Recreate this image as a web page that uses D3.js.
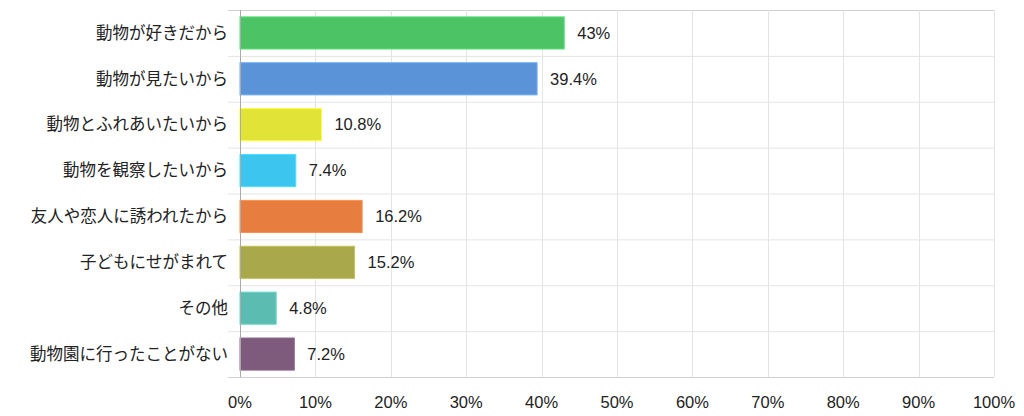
<!DOCTYPE html>
<html>
<head>
<meta charset="utf-8">
<script src="https://cdn.jsdelivr.net/npm/d3@7"></script>
<style>
  body { margin: 0; background: #fff; }
  text { font-family: "Liberation Sans", "Noto Sans CJK JP", sans-serif; fill: #222; }
</style>
</head>
<body>
<div id="chart"></div>
<script>
// données
const categories = ["動物が好きだから", "動物が見たいから", "動物とふれあいたいから", "動物を観察したいから",
  "友人や恋人に誘われたから", "子どもにせがまれて", "その他", "動物園に行ったことがない"];
const values = [43, 39.4, 10.8, 7.4, 16.2, 15.2, 4.8, 7.2];
const valueLabels = ["43%", "39.4%", "10.8%", "7.4%", "16.2%", "15.2%", "4.8%", "7.2%"];
const colors = ["#4cc466", "#5b93d9", "#e2e337", "#3cc5ef", "#e77d3f", "#a9a84b", "#5bbcb1", "#7e5b7c"];
const xTicks = [0, 10, 20, 30, 40, 50, 60, 70, 80, 90, 100];

const width = 1024, height = 416;
const margin = {top: 10, right: 30, bottom: 39, left: 240};

const svg = d3.select("#chart").append("svg")
  .attr("width", width)
  .attr("height", height);

const x = d3.scaleLinear().domain([0, 100]).range([margin.left, 994]);
const y = d3.scaleBand().domain(categories).range([margin.top, height - margin.bottom])
  .paddingInner(0.3).paddingOuter(0.15);

// lignes horizontales entre les catégories
const rowStep = (height - margin.bottom - margin.top) / categories.length;
const rows = d3.range(categories.length + 1);
svg.append("g").selectAll("line").data(rows).enter().append("line")
  .attr("x1", 228).attr("x2", x(100))
  .attr("y1", d => margin.top + d * rowStep + 0.5)
  .attr("y2", d => margin.top + d * rowStep + 0.5)
  .attr("stroke", d => (d === 0 || d === categories.length) ? "#cfcfcf" : "#e4e4e4");

// lignes verticales
svg.append("g").selectAll("line").data(xTicks.slice(1)).enter().append("line")
  .attr("x1", d => Math.round(x(d)) + 0.5).attr("x2", d => Math.round(x(d)) + 0.5)
  .attr("y1", margin.top).attr("y2", height - margin.bottom)
  .attr("stroke", "#e4e4e4");

// barres
svg.append("g").selectAll("rect").data(values).enter().append("rect")
  .attr("x", x(0))
  .attr("y", (d, i) => y(categories[i]))
  .attr("width", d => x(d) - x(0))
  .attr("height", y.bandwidth())
  .attr("fill", (d, i) => colors[i])
  .attr("stroke", (d, i) => d3.color(colors[i]).brighter(0.4))
  .attr("stroke-width", 1);

// axe gauche
svg.append("line")
  .attr("x1", x(0) + 0.5).attr("x2", x(0) + 0.5)
  .attr("y1", margin.top).attr("y2", height - margin.bottom)
  .attr("stroke", "#aaa");

// étiquettes de valeur
svg.append("g").selectAll("text").data(values).enter().append("text")
  .attr("x", d => x(d) + 13)
  .attr("y", (d, i) => y(categories[i]) + y.bandwidth() / 2)
  .attr("dy", "0.35em")
  .attr("font-size", 16.5)
  .text((d, i) => valueLabels[i]);

// étiquettes des catégories
svg.append("g").selectAll("text").data(categories).enter().append("text")
  .attr("x", 228)
  .attr("y", d => y(d) + y.bandwidth() / 2)
  .attr("dy", "0.35em")
  .attr("text-anchor", "end")
  .attr("font-size", 16.5)
  .text(d => d);

// axe x
svg.append("g").selectAll("text").data(xTicks).enter().append("text")
  .attr("x", d => x(d))
  .attr("y", 402)
  .attr("dy", "0.35em")
  .attr("text-anchor", "middle")
  .attr("font-size", 16.5)
  .text(d => d + "%");
</script>
</body>
</html>
